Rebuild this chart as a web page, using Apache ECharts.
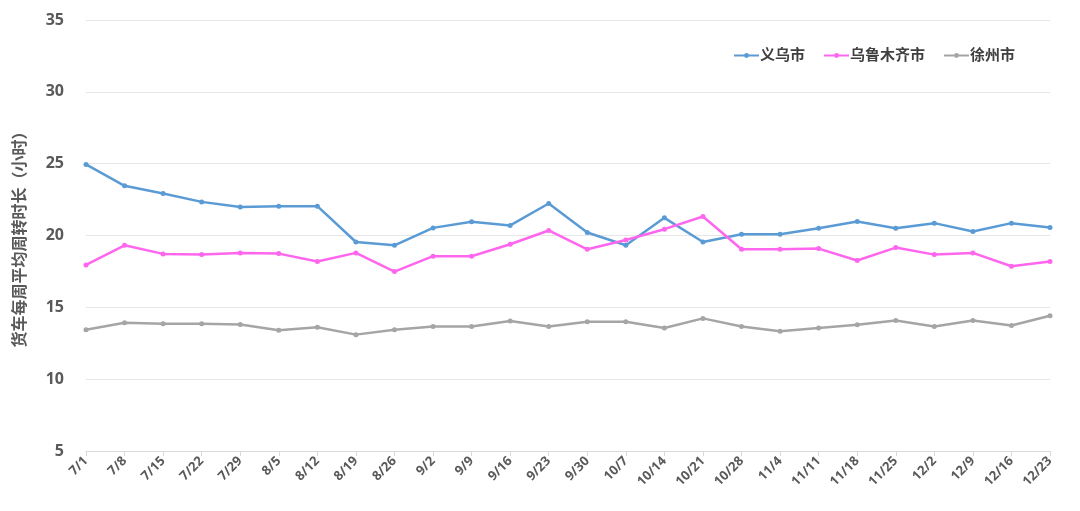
<!DOCTYPE html>
<html><head><meta charset="utf-8">
<script src="https://cdn.jsdelivr.net/npm/echarts@6/dist/echarts.min.js"></script>
<style>html,body{margin:0;padding:0;background:#fff}#c{width:1080px;height:511px}</style>
</head><body><div id="c"></div>
<script>
const categories = ['7/1','7/8','7/15','7/22','7/29','8/5','8/12','8/19','8/26','9/2','9/9','9/16','9/23','9/30','10/7','10/14','10/21','10/28','11/4','11/11','11/18','11/25','12/2','12/9','12/16','12/23'];
const yiwu = [24.95,23.46,22.93,22.34,21.99,22.04,22.04,19.55,19.32,20.53,20.95,20.70,22.23,20.21,19.32,21.23,19.55,20.09,20.09,20.51,20.98,20.51,20.86,20.28,20.86,20.56];
const urumqi = [17.95,19.32,18.72,18.67,18.79,18.74,18.19,18.79,17.49,18.56,18.56,19.39,20.35,19.04,19.69,20.44,21.32,19.04,19.04,19.09,18.26,19.16,18.67,18.79,17.86,18.19];
const xuzhou = [13.44,13.93,13.86,13.86,13.81,13.40,13.62,13.10,13.44,13.67,13.67,14.05,13.67,14.00,14.00,13.56,14.23,13.67,13.33,13.56,13.79,14.09,13.67,14.09,13.74,14.42];
const seriesNames = ['义乌市','乌鲁木齐市','徐州市'];
const yTicks = {min:5, max:35, interval:5};
const yName = '货车每周平均周转时长（小时）';

const font = "'Open Sans','Noto Sans CJK SC',sans-serif";
const colors = ['#5B9BD5','#FF66EE','#A5A5A5'];
const chart = echarts.init(document.getElementById('c'));
const mk = (name, data, color) => ({
  name, type:'line', data, symbol:'circle', symbolSize:5, showSymbol:true,
  lineStyle:{width:2.5,color}, itemStyle:{color}
});
chart.setOption({
  animation:false,
  color:colors,
  grid:{left:86,right:30,top:20,bottom:60},
  legend:{
    top:43,right:60,itemWidth:25,itemHeight:6,itemGap:18,
    textStyle:{fontFamily:font,fontSize:15,fontWeight:'bold',color:'#404040',padding:[0,0,0,-4]},
    data:seriesNames
  },
  xAxis:{
    type:'category',data:categories,boundaryGap:false,
    axisLine:{lineStyle:{color:'#D9D9D9'}},
    axisTick:{show:true,alignWithLabel:true,lineStyle:{color:'#D9D9D9'}},
    axisLabel:{rotate:45,interval:0,fontFamily:font,fontSize:13,fontWeight:'bold',color:'#595959',margin:8}
  },
  yAxis:{
    type:'value',min:yTicks.min,max:yTicks.max,interval:yTicks.interval,
    name:yName,nameLocation:'middle',nameGap:58,nameRotate:90,
    nameTextStyle:{fontFamily:font,fontSize:16,fontWeight:'bold',color:'#595959'},
    axisLine:{show:false},axisTick:{show:false},
    axisLabel:{fontFamily:font,fontSize:16,fontWeight:'bold',color:'#595959',margin:22},
    splitLine:{lineStyle:{color:'#E6E6E6',width:1}}
  },
  series:[mk(seriesNames[0],yiwu,colors[0]),mk(seriesNames[1],urumqi,colors[1]),mk(seriesNames[2],xuzhou,colors[2])]
});
</script></body></html>
